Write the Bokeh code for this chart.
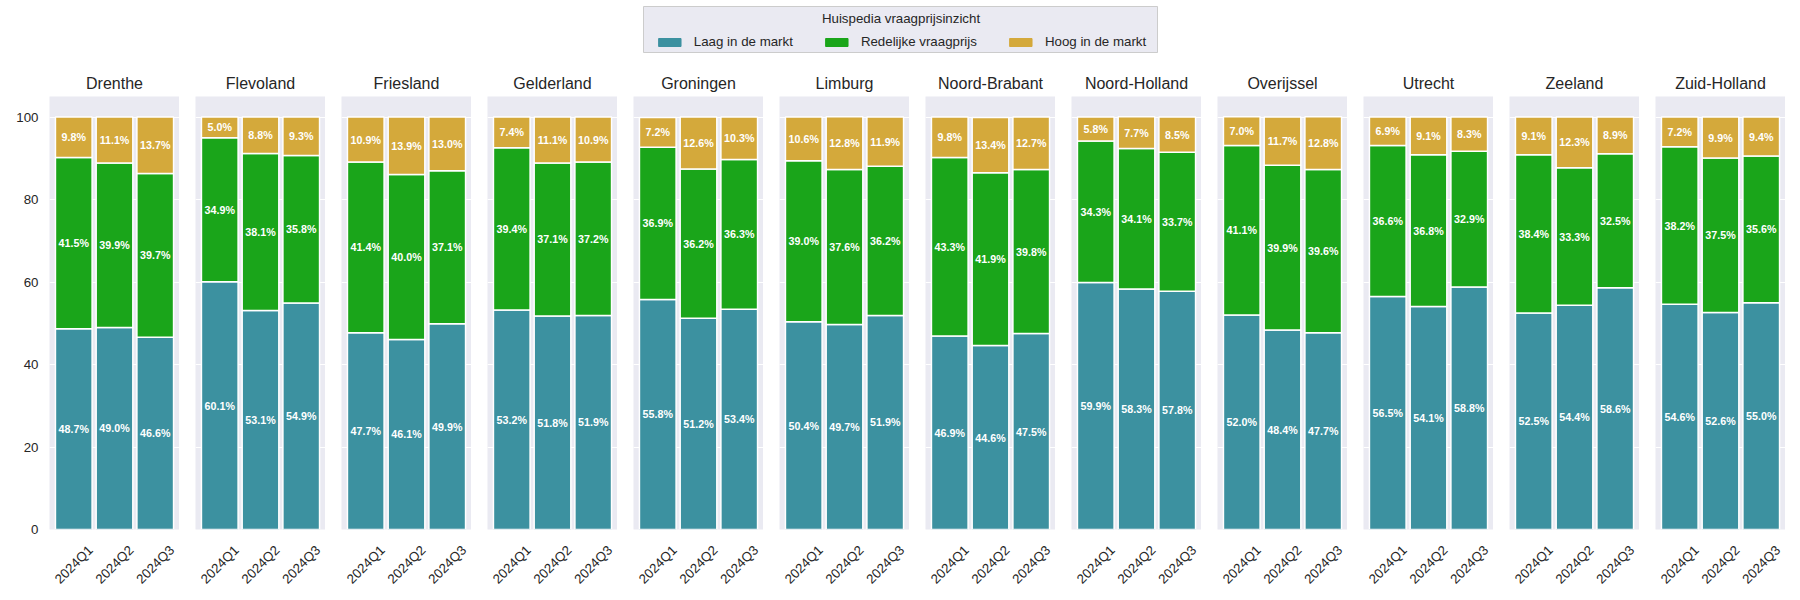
from math import pi
from bokeh.plotting import figure
from bokeh.models import (ColumnDataSource, FactorRange, Range1d, FixedTicker,
                          Legend, LegendItem, Label, Spacer)
from bokeh.layouts import column, row
from bokeh.embed import file_html
from bokeh.resources import INLINE
from bokeh.core.properties import value

provinces = ["Drenthe", "Flevoland", "Friesland", "Gelderland", "Groningen", "Limburg",
             "Noord-Brabant", "Noord-Holland", "Overijssel", "Utrecht", "Zeeland", "Zuid-Holland"]
quarters = ["2024Q1", "2024Q2", "2024Q3"]

laag = [[48.7, 49.0, 46.6], [60.1, 53.1, 54.9], [47.7, 46.1, 49.9], [53.2, 51.8, 51.9],
        [55.8, 51.2, 53.4], [50.4, 49.7, 51.9], [46.9, 44.6, 47.5], [59.9, 58.3, 57.8],
        [52.0, 48.4, 47.7], [56.5, 54.1, 58.8], [52.5, 54.4, 58.6], [54.6, 52.6, 55.0]]
redelijk = [[41.5, 39.9, 39.7], [34.9, 38.1, 35.8], [41.4, 40.0, 37.1], [39.4, 37.1, 37.2],
            [36.9, 36.2, 36.3], [39.0, 37.6, 36.2], [43.3, 41.9, 39.8], [34.3, 34.1, 33.7],
            [41.1, 39.9, 39.6], [36.6, 36.8, 32.9], [38.4, 33.3, 32.5], [38.2, 37.5, 35.6]]
hoog = [[9.8, 11.1, 13.7], [5.0, 8.8, 9.3], [10.9, 13.9, 13.0], [7.4, 11.1, 10.9],
        [7.2, 12.6, 10.3], [10.6, 12.8, 11.9], [9.8, 13.4, 12.7], [5.8, 7.7, 8.5],
        [7.0, 11.7, 12.8], [6.9, 9.1, 8.3], [9.1, 12.3, 8.9], [7.2, 9.9, 9.4]]

series_names = ["Laag in de markt", "Redelijke vraagprijs", "Hoog in de markt"]
series_colors = ["#3C91A0", "#1AA51A", "#D4A93B"]
legend_title = "Huispedia vraagprijsinzicht"
y_ticks = [0, 20, 40, 60, 80, 100]

FONT = "Liberation Sans"
TXT = "#262626"
BG = "#EAEAF2"
NAN = float("nan")
TICK_STRIP_H = 53   # px strip under each panel holding the rotated category labels
TICK_LABEL_DROP = 25  # px from strip top to label centre

cols = []
for i, prov in enumerate(provinces):
    first = i == 0
    w = 179 if first else 146
    mbl = 49 if first else 16
    xr = FactorRange(*quarters, range_padding=0.064)
    p = figure(x_range=xr, y_range=Range1d(0, 105),
               width=w, height=479,
               min_border_left=mbl, min_border_right=0,
               min_border_top=36, min_border_bottom=10,
               x_axis_location=None,
               y_axis_location="left" if first else None,
               output_backend="svg", toolbar_location=None, title=prov)
    p.background_fill_color = BG
    p.outline_line_color = None
    p.title.align = "center"
    p.title.text_font = FONT
    p.title.text_font_style = "normal"
    p.title.text_font_size = "16px"
    p.title.text_color = TXT
    p.title.standoff = 9

    p.xgrid.visible = False
    p.ygrid.ticker = FixedTicker(ticks=y_ticks)
    p.ygrid.grid_line_color = "white"
    p.ygrid.grid_line_width = 1.2

    if first:
        p.yaxis.ticker = FixedTicker(ticks=y_ticks)
        p.yaxis.axis_line_color = None
        p.yaxis.major_tick_line_color = None
        p.yaxis.minor_tick_line_color = None
        p.yaxis.major_tick_in = 0
        p.yaxis.major_tick_out = 0
        p.yaxis.major_label_standoff = 11
        p.yaxis.major_label_text_font = FONT
        p.yaxis.major_label_text_font_size = "13.3px"
        p.yaxis.major_label_text_color = TXT

    src = ColumnDataSource(dict(q=quarters, laag=laag[i], red=redelijk[i], hoog=hoog[i]))
    p.vbar_stack(["laag", "red", "hoog"], x="q", width=0.9, source=src,
                 fill_color=series_colors, line_color="white", line_width=1.5)

    lx, ly, lt = [], [], []
    for j, q in enumerate(quarters):
        a, b, c = laag[i][j], redelijk[i][j], hoog[i][j]
        lx += [q, q, q]
        ly += [a / 2, a + b / 2, a + b + c / 2]
        lt += [f"{a:.1f}%", f"{b:.1f}%", f"{c:.1f}%"]
    p.text(x=lx, y=ly, text=lt, text_align="center", text_baseline="middle",
           text_color="white", text_font=value(FONT), text_font_style="bold",
           text_font_size="10.7px")

    # strip with the rotated category labels, sharing the panel's x range
    t = figure(x_range=xr, y_range=Range1d(0, TICK_STRIP_H), width=w, height=TICK_STRIP_H,
               min_border_left=mbl, min_border_right=0, min_border_top=0, min_border_bottom=0,
               x_axis_location=None, y_axis_location=None,
               output_backend="svg", toolbar_location=None)
    t.outline_line_color = None
    t.grid.visible = False
    t.text(x=quarters, y=TICK_STRIP_H - TICK_LABEL_DROP, text=quarters, angle=pi / 4,
           text_align="center", text_baseline="middle", text_color=TXT,
           text_font=value(FONT), text_font_size="13.3px")
    cols.append(column(p, t))

# legend box
lf = figure(width=515, height=47, x_range=Range1d(0, 1), y_range=Range1d(0, 1),
            x_axis_location=None, y_axis_location=None, min_border=0,
            output_backend="svg", toolbar_location=None)
lf.background_fill_color = BG
lf.border_fill_color = BG
lf.outline_line_color = "#CCCCCC"
lf.grid.visible = False
items = []
for name, color in zip(series_names, series_colors):
    r = lf.vbar(x=[NAN], top=[NAN], width=0.5, fill_color=color, line_color=color)
    items.append(LegendItem(label=name, renderers=[r]))
legend = Legend(items=items, orientation="horizontal", location="bottom_center", margin=4,
                padding=0, spacing=29, glyph_width=28, glyph_height=10, label_standoff=11,
                label_text_font=FONT, label_text_font_size="13.3px", label_text_color=TXT,
                background_fill_alpha=0, border_line_color=None)
lf.add_layout(legend, "center")
lf.add_layout(Label(x=0.5, y=0.745, text=legend_title,
                    text_align="center", text_baseline="middle", text_font=FONT,
                    text_font_size="13.3px", text_color=TXT))

layout = column(Spacer(height=6), row(Spacer(width=643), lf), Spacer(height=7), row(*cols))
open("out.html", "w").write(file_html(layout, INLINE))
